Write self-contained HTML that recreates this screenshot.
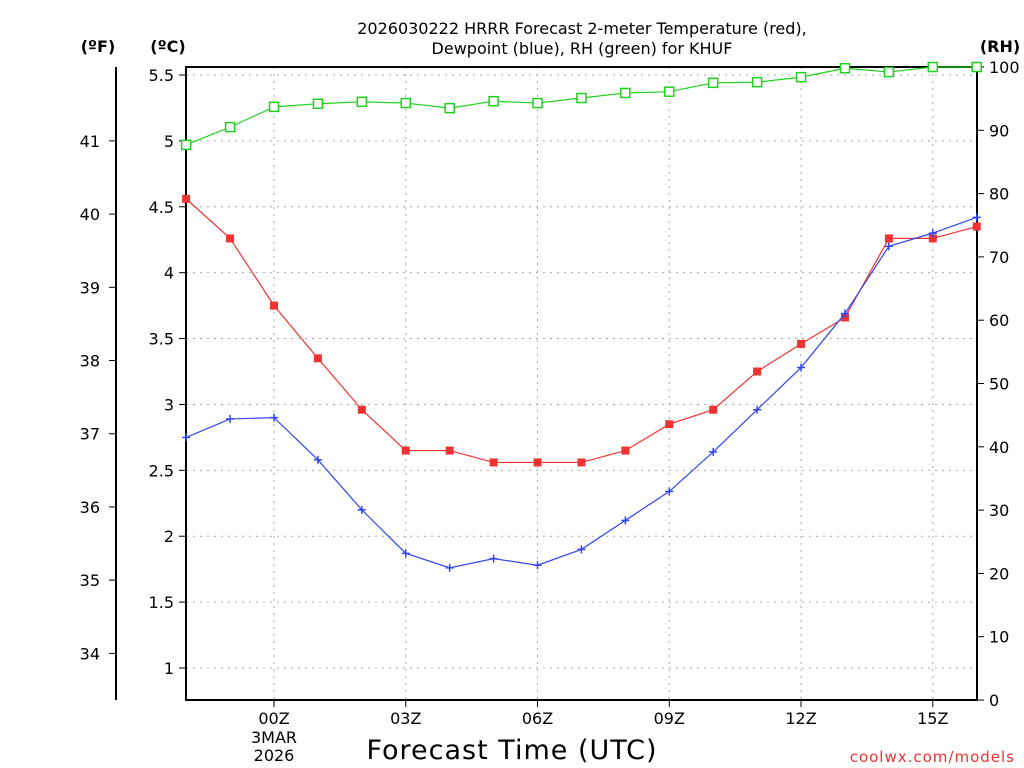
<!DOCTYPE html>
<html><head><meta charset="utf-8"><style>
body{margin:0;background:#fff;}
svg{display:block;font-family:"DejaVu Sans","Liberation Sans",sans-serif;}
</style></head><body>
<svg id="c" width="1024" height="768" viewBox="0 0 1024 768"></svg>
<script>
const hours=[-2,-1,0,1,2,3,4,5,6,7,8,9,10,11,12,13,14,15,16];
const tempC=[4.56,4.26,3.75,3.35,2.96,2.65,2.65,2.56,2.56,2.56,2.65,2.85,2.96,3.25,3.46,3.66,4.26,4.26,4.35];
const dewC=[2.75,2.89,2.9,2.58,2.2,1.87,1.76,1.83,1.78,1.9,2.12,2.34,2.64,2.96,3.28,3.69,4.2,4.3,4.42];
const rh=[87.7,90.5,93.7,94.2,94.5,94.3,93.5,94.6,94.3,95.1,95.9,96.1,97.5,97.6,98.4,99.8,99.2,100,100];
const cTicks=[1,1.5,2,2.5,3,3.5,4,4.5,5,5.5];
const fTicks=[34,35,36,37,38,39,40,41];
const rhTicks=[0,10,20,30,40,50,60,70,80,90,100];
const xTicks=[0,3,6,9,12,15];
const xLabels=["00Z","03Z","06Z","09Z","12Z","15Z"];

const L=186,R=977,T=67,B=700;
const X=h=>274+h*43.92;
const YC=c=>75+(5.5-c)*131.78;
const YF=f=>YC((f-32)/1.8);
const YR=r=>B-r*(B-T)/100;
const svg=document.getElementById('c');
const NS='http://www.w3.org/2000/svg';
function mk(tag,attrs,parent){const e=document.createElementNS(NS,tag);for(const k in attrs)e.setAttribute(k,attrs[k]);(parent||svg).appendChild(e);return e;}
function txt(s,x,y,attrs){const e=mk('text',Object.assign({x:x,y:y,'font-size':16,fill:'#000'},attrs||{}));e.textContent=s;return e;}

const grid=mk('g',{});


cTicks.forEach(c=>mk('line',{x1:L,x2:R,y1:YC(c),y2:YC(c),stroke:'#aaa','stroke-dasharray':'2,5'},grid));
xTicks.forEach(h=>mk('line',{x1:X(h),x2:X(h),y1:T,y2:B,stroke:'#aaa','stroke-dasharray':'2,5'},grid));

const fr=mk('rect',{x:L,y:T,width:R-L,height:B-T,fill:'none',stroke:'#000','stroke-width':2});



const ca=mk('g',{});


cTicks.forEach(c=>{mk('line',{x1:L-7,x2:L,y1:YC(c),y2:YC(c),stroke:'#000'},ca);
 const t=txt(String(c),L-12,YC(c)+6,{'text-anchor':'end'});ca.appendChild(t);});
const fa=mk('g',{});


mk('line',{x1:116,x2:116,y1:T,y2:B,stroke:'#000','stroke-width':2},fa);
fTicks.forEach(f=>{mk('line',{x1:109,x2:116,y1:YF(f),y2:YF(f),stroke:'#000'},fa);
 const t=txt(String(f),100,YF(f)+6,{'text-anchor':'end'});fa.appendChild(t);});
const ra=mk('g',{});


rhTicks.forEach(r=>{mk('line',{x1:R,x2:R+7,y1:YR(r),y2:YR(r),stroke:'#000'},ra);
 const t=txt(String(r),R+12,YR(r)+6,{});ra.appendChild(t);});
const xa=mk('g',{});


xTicks.forEach((h,i)=>{mk('line',{x1:X(h),x2:X(h),y1:B,y2:B+7,stroke:'#000'},xa);
 const t=txt(xLabels[i],X(h),B+24,{'text-anchor':'middle'});xa.appendChild(t);});
let t1=txt('3MAR',X(0),B+43,{'text-anchor':'middle'});


let t2=txt('2026',X(0),B+61,{'text-anchor':'middle'});



function series(vals,yf,color,name,marker){
 const g=mk('g',{});
 
 
 mk('polyline',{points:vals.map((v,i)=>X(hours[i])+','+yf(v)).join(' '),fill:'none',stroke:color,'stroke-width':1.2},g);
 vals.forEach((v,i)=>{const x=X(hours[i]),y=yf(v);
  if(marker==='fill')mk('rect',{x:x-4,y:y-4,width:8,height:8,fill:color},g);
  else if(marker==='open')mk('rect',{x:x-4.5,y:y-4.5,width:9,height:9,fill:'#fff',stroke:color,'stroke-width':1.5},g);
  else{mk('line',{x1:x-4,x2:x+4,y1:y,y2:y,stroke:color,'stroke-width':1.5},g);mk('line',{x1:x,x2:x,y1:y-4,y2:y+4,stroke:color,'stroke-width':1.5},g);}
 });
}
series(rh,YR,'#1ed21e','rh-series','open');
series(tempC,YC,'#f03232','temperature-series','fill');
series(dewC,YC,'#3246f0','dewpoint-series','plus');

let a=txt('(ºF)',98,52,{'font-weight':'bold','text-anchor':'middle'});

a=txt('(ºC)',168,52,{'font-weight':'bold','text-anchor':'middle'});

a=txt('(RH)',1000,52,{'font-weight':'bold','text-anchor':'middle'});

a=txt('2026030222 HRRR Forecast 2-meter Temperature (red),',582,34,{'text-anchor':'middle'});

a=txt('Dewpoint (blue), RH (green) for KHUF',582,54,{'text-anchor':'middle'});

a=txt('Forecast Time (UTC)',512,759,{'text-anchor':'middle','font-size':27,'letter-spacing':'1'});

a=txt('coolwx.com/models',1015,762,{'text-anchor':'end','font-size':15,fill:'#f03232','letter-spacing':'1'});

</script>
</body></html>
